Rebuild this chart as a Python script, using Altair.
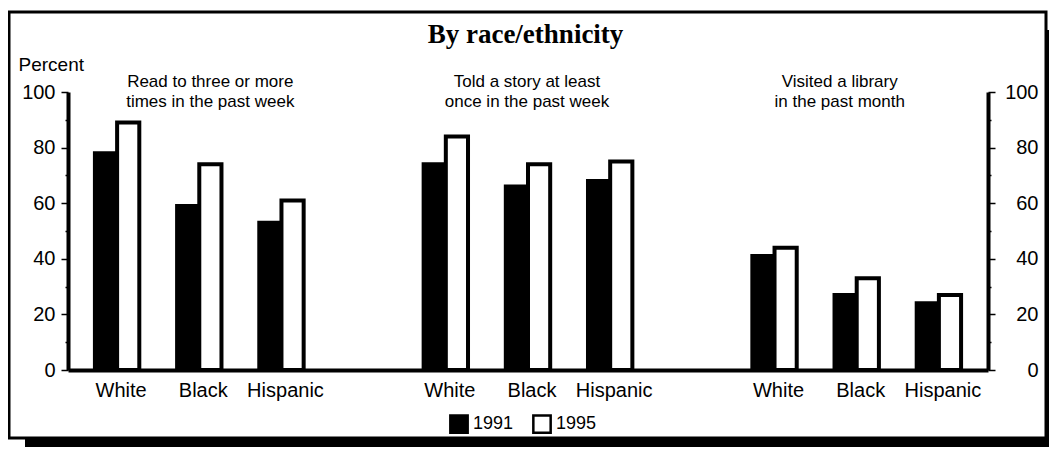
import altair as alt

# ---------------- data ----------------
chart_title = "By race/ethnicity"
activity_lines = [
    ["Read to three or more", "times in the past week"],
    ["Told a story at least", "once in the past week"],
    ["Visited a library", "in the past month"],
]
races = ["White", "Black", "Hispanic"]
years = ["1991", "1995"]
pct_1991 = [78, 59, 53, 74, 66, 68, 41, 27, 24]
pct_1995 = [89, 74, 61, 84, 74, 75, 44, 33, 27]
y_tick_values = [0, 10, 20, 30, 40, 50, 60, 70, 80, 90, 100]
y_axis_title = "Percent"

# slots: 3 races per activity, with an empty slot between activities
slot_domain = []
for gi in range(len(activity_lines)):
    for race in races:
        slot_domain.append(f"{len(slot_domain)}|{race}")
    if gi < len(activity_lines) - 1:
        slot_domain.append(f"{len(slot_domain)}|")

race_slots = [s for s in slot_domain if not s.endswith("|")]
rows = []
for i, slot in enumerate(race_slots):
    rows.append({"slot": slot, "year": years[0], "pct": pct_1991[i]})
    rows.append({"slot": slot, "year": years[1], "pct": pct_1995[i]})

annot_rows = [{"slot": race_slots[gi * 3 + 1], "lines": lines} for gi, lines in enumerate(activity_lines)]

# ---------------- styling ----------------
FONT = "Liberation Sans"
SERIF = "Liberation Serif"

y_scale = alt.Scale(domain=[0, 100], nice=False, zero=True)

x_enc = alt.X(
    "slot:N",
    scale=alt.Scale(domain=slot_domain, paddingInner=0.46, paddingOuter=0.3276),
    sort=slot_domain,
    title=None,
    axis=alt.Axis(
        labelExpr="split(datum.label, '|')[1]",
        ticks=False,
        labelAngle=0,
        labelFont=FONT,
        labelFontSize=20,
        labelColor="black",
        labelPadding=10,
        labelOffset=4,
        domainColor="black",
        domainWidth=4,
        grid=False,
        zindex=2,
    ),
)

tick_cond = {"condition": {"test": "datum.value % 20 === 0", "value": 7}, "value": 3}
label_expr = "datum.value % 20 === 0 ? datum.label : ''"

left_axis = alt.Axis(
    orient="left",
    values=y_tick_values,
    labelExpr=label_expr,
    tickSize=tick_cond,
    tickWidth=1.5,
    tickColor="black",
    domainColor="black",
    domainWidth=4,
    labelFont=FONT,
    labelFontSize=20,
    labelColor="black",
    labelPadding=6,
    grid=False,
    title=y_axis_title,
    titleAngle=0,
    titleX=-50,
    titleY=-22,
    titleAlign="left",
    titleBaseline="alphabetic",
    titleFont=FONT,
    titleFontSize=19,
    titleFontWeight="normal",
    titleColor="black",
    zindex=2,
)

right_axis = alt.Axis(
    orient="right",
    values=y_tick_values,
    labelExpr=label_expr,
    tickSize=tick_cond,
    tickWidth=1.5,
    tickColor="black",
    domainColor="black",
    domainWidth=4,
    labelFont=FONT,
    labelFontSize=20,
    labelColor="black",
    labelAlign="right",
    labelPadding=43,
    grid=False,
    title=None,
    zindex=2,
)

frame_data = alt.Data(values=[{"k": 0}])

shadow = alt.Chart(frame_data).mark_rect(color="black").encode(
    x=alt.value(-43), x2=alt.value(1010), y=alt.value(-62), y2=alt.value(400)
)
frame = alt.Chart(frame_data).mark_rect(fill="white", stroke="black", strokeWidth=3).encode(
    x=alt.value(-59), x2=alt.value(978), y=alt.value(-80), y2=alt.value(346)
)

bars = alt.Chart(alt.Data(values=rows)).mark_bar(stroke="black", strokeWidth=4).encode(
    x=x_enc,
    xOffset=alt.XOffset("year:N", scale=alt.Scale(domain=years)),
    y=alt.Y("pct:Q", scale=y_scale, axis=left_axis),
    fill=alt.Fill(
        "year:N",
        scale=alt.Scale(domain=years, range=["#000000", "#ffffff"]),
        legend=alt.Legend(
            orient="none",
            legendX=381,
            legendY=322,
            direction="horizontal",
            title=None,
            symbolType="square",
            symbolSize=300,
            symbolStrokeColor="black",
            symbolStrokeWidth=2.5,
            symbolOpacity=1,
            labelFont=FONT,
            labelFontSize=18,
            labelColor="black",
            labelOffset=4,
            columnPadding=14,
            padding=0,
        ),
    ),
)

right_layer = alt.Chart(alt.Data(values=rows)).mark_bar(opacity=0).encode(
    x=x_enc,
    y=alt.Y("pct:Q", scale=y_scale, axis=right_axis),
)

annot_dx = [11, -1, -17]
annots = [
    alt.Chart(alt.Data(values=[annot_rows[gi]])).mark_text(
        align="center", baseline="alphabetic", font=FONT, fontSize=17,
        lineHeight=20, dx=annot_dx[gi], color="black",
    ).encode(
        x=x_enc,
        y=alt.YDatum(101.8, scale=y_scale, axis=None),
        text="lines:N",
    )
    for gi in range(len(annot_rows))
]

title_layer = alt.Chart(alt.Data(values=[{"t": chart_title}])).mark_text(
    align="center", baseline="alphabetic", font=SERIF, fontSize=27, fontWeight="bold", color="black"
).encode(x=alt.value(457.5), y=alt.value(-49), text="t:N")

chart = alt.layer(shadow, frame, bars, right_layer, *annots, title_layer).resolve_axis(
    y="independent"
).properties(
    width=920,
    height=278,
    padding={"left": 60, "top": 84, "right": 61, "bottom": 77},
    autosize=alt.AutoSizeParams(type="none"),
    background="white",
).configure_view(stroke=None)

chart.save("out.html", embed_options={"renderer": "svg", "actions": False})
